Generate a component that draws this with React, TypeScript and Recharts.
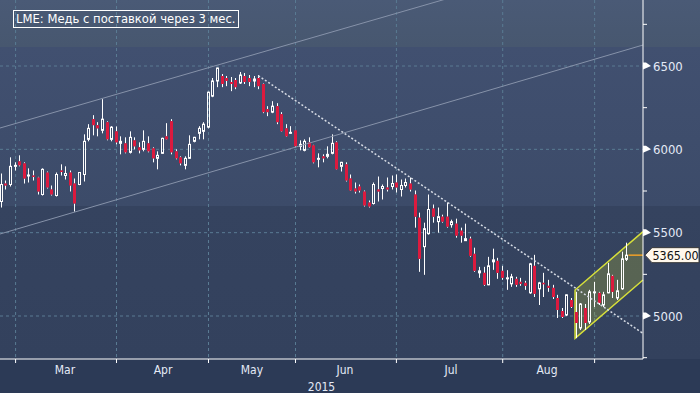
import React from 'react';
import { Bar, CartesianGrid, ComposedChart, ReferenceArea, ReferenceLine, XAxis, YAxis } from 'recharts';

// LME copper 3M, daily candles late Feb - 10 Sep 2015
const opens = [
  5687, 5795, 5789, 5898, 5928, 5916, 5840, 5843, 5831, 5729,
  5861, 5759, 5723, 5873, 5843, 5861, 5795, 5789, 5849, 6060,
  6181, 6145, 6114, 6163, 6060, 6108, 6036, 6036, 5982, 6054,
  6012, 6000, 6036, 6006, 5946, 5976, 6078, 6169, 5988, 5952,
  5904, 5946, 6048, 6096, 6108, 6133, 6319, 6410, 6440, 6428,
  6404, 6416, 6398, 6440, 6428, 6410, 6428, 6392, 6241, 6223,
  6259, 6211, 6126, 6096, 6114, 6018, 5994, 6042, 6024, 5940,
  5958, 5958, 5976, 6042, 5898, 5910, 5825, 5765, 5777, 5747,
  5681, 5675, 5759, 5765, 5771, 5777, 5801, 5759, 5783, 5795,
  5729, 5590, 5416, 5494, 5645, 5566, 5596, 5596, 5548, 5554,
  5512, 5452, 5464, 5373, 5259, 5259, 5187, 5325, 5331, 5271,
  5223, 5193, 5223, 5205, 5199, 5139, 5301, 5163, 5199, 5181,
  5169, 5108, 5030, 5006, 5096, 5024, 4928, 5048, 4964, 5139,
  5139, 5066, 5139, 5241, 5108, 5163, 5340,
];
const highs = [
  5855, 5813, 5952, 5922, 5964, 5922, 5886, 5873, 5835, 5886,
  5867, 5783, 5861, 5910, 5898, 5873, 5825, 5863, 6090, 6151,
  6205, 6163, 6301, 6168, 6139, 6137, 6078, 6072, 6108, 6072,
  6042, 6114, 6078, 6012, 5988, 6070, 6157, 6181, 6000, 5958,
  5958, 6084, 6075, 6139, 6163, 6346, 6428, 6490, 6452, 6440,
  6434, 6428, 6464, 6458, 6446, 6440, 6446, 6395, 6259, 6289,
  6277, 6223, 6151, 6139, 6117, 6054, 6060, 6072, 6027, 5976,
  5970, 6018, 6090, 6048, 5925, 5922, 5849, 5801, 5789, 5753,
  5693, 5801, 5837, 5789, 5831, 5843, 5849, 5819, 5825, 5831,
  5753, 5620, 5560, 5729, 5669, 5651, 5608, 5681, 5578, 5584,
  5530, 5554, 5476, 5410, 5295, 5295, 5355, 5404, 5349, 5301,
  5275, 5253, 5235, 5229, 5211, 5319, 5367, 5205, 5259, 5217,
  5187, 5127, 5048, 5130, 5108, 5145, 5078, 5072, 5157, 5205,
  5145, 5145, 5319, 5247, 5217, 5386, 5440,
];
const lows = [
  5651, 5759, 5777, 5873, 5898, 5795, 5801, 5813, 5729, 5723,
  5765, 5723, 5717, 5843, 5819, 5747, 5626, 5785, 5807, 6048,
  6084, 6078, 6096, 6054, 6048, 6030, 5970, 5976, 5975, 6000,
  5976, 5988, 5982, 5922, 5880, 5972, 6058, 5970, 5940, 5904,
  5880, 5943, 6042, 6060, 6060, 6126, 6313, 6373, 6373, 6379,
  6349, 6361, 6392, 6392, 6379, 6373, 6361, 6217, 6199, 6217,
  6151, 6105, 6075, 6093, 6012, 5994, 5988, 6009, 5916, 5892,
  5922, 5946, 5970, 5878, 5867, 5807, 5750, 5735, 5741, 5657,
  5651, 5669, 5687, 5699, 5747, 5759, 5741, 5717, 5771, 5747,
  5530, 5265, 5247, 5488, 5560, 5500, 5560, 5530, 5530, 5470,
  5440, 5450, 5355, 5265, 5229, 5181, 5185, 5277, 5223, 5217,
  5157, 5175, 5175, 5181, 5157, 5133, 5114, 5066, 5114, 5145,
  5102, 4988, 4988, 5000, 5048, 4867, 4916, 4916, 4952, 5054,
  5066, 5054, 5136, 5108, 5096, 5157, 5330,
];
const closes = [
  5789, 5783, 5898, 5904, 5904, 5825, 5846, 5837, 5747, 5880,
  5771, 5729, 5849, 5867, 5855, 5783, 5675, 5861, 6048, 6126,
  6145, 6126, 6181, 6060, 6133, 6042, 6048, 5982, 6072, 6018,
  5994, 6048, 5988, 5946, 5964, 6066, 6060, 5982, 5946, 5916,
  5946, 6030, 6072, 6126, 6151, 6343, 6410, 6488, 6392, 6410,
  6392, 6373, 6446, 6404, 6404, 6422, 6379, 6223, 6223, 6259,
  6163, 6108, 6078, 6102, 6018, 6030, 6048, 6012, 5922, 5946,
  5946, 5970, 6036, 5880, 5922, 5813, 5753, 5747, 5753, 5663,
  5657, 5789, 5747, 5777, 5759, 5795, 5771, 5783, 5801, 5759,
  5596, 5343, 5524, 5639, 5596, 5596, 5566, 5536, 5566, 5482,
  5482, 5464, 5361, 5271, 5271, 5187, 5301, 5337, 5259, 5229,
  5229, 5235, 5187, 5193, 5181, 5313, 5133, 5199, 5193, 5169,
  5114, 5036, 4994, 5127, 5054, 4958, 5072, 4958, 5145, 5145,
  5078, 5127, 5253, 5145, 5151, 5343, 5365,
];

// x axis runs in trading-day index
const monthStarts = [3.17, 25.11, 45.11, 64.02, 85.96, 109.07, 129.05];
const monthMids = [13.91, 35.22, 54.56, 74.78, 97.83, 118.7];
const monthNames = ['Mar', 'Apr', 'May', 'Jun', 'Jul', 'Aug'];
const yearLabel = '2015';
const majorTicks = [5000, 5500, 6000, 6500];
const minorTicks = [4750, 5250, 5750, 6250, 6750];
const lastPrice = 5365;
const title = 'LME: Медь с поставкой через 3 мес.';

// drawn annotations: [index, price]
const channelUpper = [[-0.22, 6128], [139.57, 7244]];
const channelLower = [[-0.22, 5492], [139.57, 6626]];
const downTrend = [[55.93, 6442], [139.57, 4896]];
const wedgeLeft = [124.8, 4866, 5156];
const wedgeRight = [139.57, 5216, 5506];
const lastLineStart = 136.4;

const X_DOMAIN = [-0.22, 139.57];
const Y_DOMAIN = [4742, 6896];

const FONT = "'DejaVu Sans Condensed', 'DejaVu Sans', sans-serif";
const TXT = '#e4eaf6';
const RED = '#dc1a3e';

const data = opens.map((o, i) => ({ i, o, h: highs[i], l: lows[i], c: closes[i] }));

function Candle(props: any) {
  const { x, y, width, height, payload } = props;
  if (!payload || payload.o == null || x == null) return null;
  const { o, h, l, c } = payload;
  const top = Math.min(y, y + height);
  const bot = Math.max(y, y + height);
  const span = h - l || 1;
  const py = (v: number) => top + ((h - v) / span) * (bot - top);
  const k = Math.floor(x + width / 2);
  const cx = k + 0.5;
  const bt = py(Math.max(o, c));
  const bb = py(Math.min(o, c));
  const up = c >= o;
  return (
    <g>
      <line x1={cx} x2={cx} y1={top} y2={bt} stroke="#fff" strokeWidth={1} />
      <line x1={cx} x2={cx} y1={bb} y2={bot} stroke="#fff" strokeWidth={1} />
      {up ? (
        <rect x={k - 0.5} y={bt} width={2} height={Math.max(bb - bt, 1)} fill="none" stroke="#fff" strokeWidth={1} />
      ) : (
        <rect x={k - 1} y={bt} width={3} height={Math.max(bb - bt, 1.5)} fill={RED} />
      )}
    </g>
  );
}

function XTick(props: any) {
  const { x, y, payload } = props;
  const idx = monthMids.indexOf(payload.value);
  if (idx >= 0) {
    return (
      <text x={x} y={y + 10.5} textAnchor="middle" fill={TXT} fontSize={12} fontFamily={FONT}>
        {monthNames[idx]}
      </text>
    );
  }
  return <line x1={x} x2={x} y1={y - 4} y2={y} stroke="#fff" />;
}

function YTick(props: any) {
  const { x, y, payload } = props;
  const v = payload.value;
  if (v === lastPrice) {
    return (
      <g>
        <polygon
          points={`${x + 2},${y} ${x + 9},${y - 7.5} ${x + 56},${y - 7.5} ${x + 56},${y + 7.5} ${x + 9},${y + 7.5}`}
          fill="#fff8ec"
          stroke="#3a3a3a"
        />
        <text x={x + 9.5} y={y + 4.5} fill="#111" fontSize={12.4} fontFamily={FONT}>
          {lastPrice.toFixed(2)}
        </text>
      </g>
    );
  }
  if (majorTicks.includes(v)) {
    return (
      <g>
        <polygon points={`${x},${y - 3.5} ${x + 3},${y - 3.5} ${x + 8},${y} ${x},${y + 3.5}`} fill="#fff" />
        <text x={x + 10} y={y + 4.5} fill={TXT} fontSize={13} fontFamily={FONT}>
          {v}
        </text>
      </g>
    );
  }
  return <line x1={x} x2={x + 4} y1={y} y2={y} stroke="#fff" />;
}

function Wedge(props: any) {
  const { x, y, width, height } = props;
  const hi = wedgeRight[2];
  const lo = wedgeLeft[1];
  const py = (v: number) => y + ((hi - v) / (hi - lo)) * height;
  const xl = x;
  const xr = x + width;
  const lt = py(wedgeLeft[2]);
  const lb = py(wedgeLeft[1]);
  const rt = py(wedgeRight[2]);
  const rb = py(wedgeRight[1]);
  return (
    <g>
      <polygon points={`${xl},${lt} ${xr},${rt} ${xr},${rb} ${xl},${lb}`} fill="#c0ca38" fillOpacity={0.26} />
      <polyline points={`${xr},${rt} ${xl},${lt} ${xl},${lb} ${xr},${rb}`} fill="none" stroke="#d6df3a" strokeWidth={1.5} />
    </g>
  );
}

const seg = (pts: number[][]) => pts.map(([x, y]) => ({ x, y }));

export default function App() {
  const bg =
    'linear-gradient(to bottom, #4a5a76 0px, #47576f 47px, #415070 47px, #3c4b69 206px, #35435f 206px, #33415d 359px, #2c3a56 359px, #2c3a56 393px)';
  return (
    <div style={{ position: 'absolute', left: 0, top: 0, width: 700, height: 393, background: bg, fontFamily: FONT }}>
      <ComposedChart width={700} height={393} data={data} margin={{ top: 0, right: 0, bottom: 0, left: 0 }}>
        <CartesianGrid
          stroke="#5a7b93"
          strokeDasharray="3 3"
          horizontalValues={majorTicks}
          verticalValues={monthStarts}
        />
        <XAxis
          type="number"
          dataKey="i"
          domain={X_DOMAIN}
          allowDataOverflow
          ticks={[...monthStarts, ...monthMids]}
          interval={0}
          tick={(p: any) => <XTick {...p} />}
          tickLine={false}
          tickSize={4}
          tickMargin={0}
          height={34}
          axisLine={{ stroke: '#fff' }}
          label={{ value: yearLabel, position: 'insideBottom', offset: 2, fill: TXT, fontSize: 12, fontFamily: FONT }}
        />
        <YAxis
          type="number"
          orientation="right"
          width={57}
          domain={Y_DOMAIN}
          allowDataOverflow
          ticks={[...minorTicks, ...majorTicks, lastPrice]}
          interval={0}
          tick={(p: any) => <YTick {...p} />}
          tickLine={false}
          tickSize={0}
          tickMargin={0}
          axisLine={{ stroke: '#fff' }}
        />
        <ReferenceLine segment={seg(channelUpper)} ifOverflow="hidden" stroke="#8692a9" strokeWidth={1} />
        <ReferenceLine segment={seg(channelLower)} ifOverflow="hidden" stroke="#8692a9" strokeWidth={1} />
        <ReferenceLine
          segment={seg(downTrend)}
          ifOverflow="hidden"
          stroke="#d6dbe4"
          strokeWidth={1.5}
          strokeDasharray="2 2"
        />
        <Bar
          dataKey={(d: any) => [d.l, d.h]}
          barSize={3}
          shape={(p: any) => <Candle {...p} />}
          isAnimationActive={false}
        />
        <ReferenceArea
          x1={wedgeLeft[0]}
          x2={wedgeRight[0]}
          y1={wedgeLeft[1]}
          y2={wedgeRight[2]}
          ifOverflow="visible"
          shape={(p: any) => <Wedge {...p} />}
        />
        <ReferenceLine
          segment={[
            { x: lastLineStart, y: lastPrice },
            { x: X_DOMAIN[1], y: lastPrice },
          ]}
          ifOverflow="visible"
          stroke="#f0a028"
          strokeWidth={1.5}
        />
      </ComposedChart>
      <div
        style={{
          position: 'absolute',
          left: 13,
          top: 10,
          height: 16,
          border: '1px solid #fff',
          color: '#fff',
          fontSize: 11.6,
          lineHeight: '16px',
          padding: '0 2px',
          whiteSpace: 'nowrap',
          fontFamily: "'DejaVu Sans', sans-serif",
        }}
      >
        {title}
      </div>
    </div>
  );
}
